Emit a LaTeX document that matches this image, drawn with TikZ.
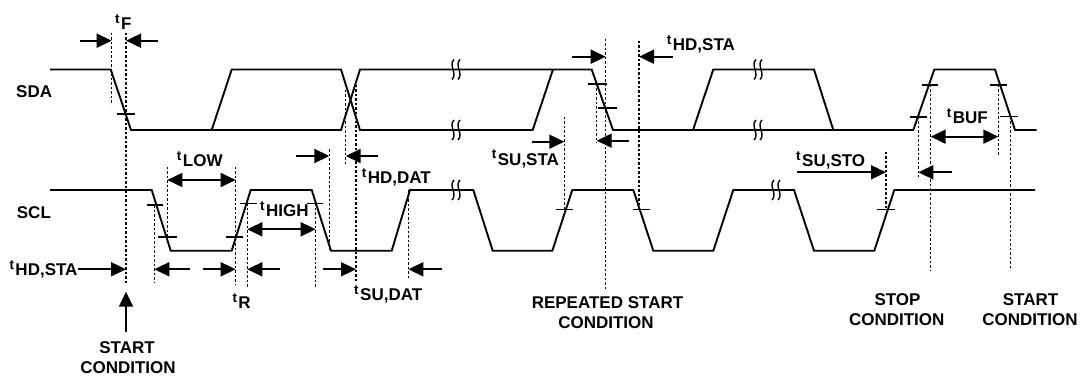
\documentclass[tikz,border=0pt]{standalone}
\usepackage{fontspec}
\setmainfont{Liberation Sans}
\usetikzlibrary{arrows.meta}
\newcommand\tlbl[1]{\raisebox{6pt}{\fontsize{13.5}{13.5}\selectfont t}\kern1.5pt #1}
\tikzset{
  sig/.style={line width=1.9pt, line join=miter},
  guide/.style={line width=1.4pt, dash pattern=on 2.5pt off 2pt},
  tickmark/.style={line width=1.6pt},
  arr/.style={line width=1.8pt, -{Triangle[length=15pt,width=14pt]}},
  darr/.style={line width=1.8pt, {Triangle[length=15pt,width=14pt]}-{Triangle[length=15pt,width=14pt]}},
  lbl/.style={inner sep=0pt, anchor=base west, font=\fontsize{17}{17}\selectfont\bfseries},
  cond/.style={inner sep=0pt, anchor=base, font=\fontsize{17}{17}\selectfont\bfseries},
  brk/.pic={
    \draw[line width=1.4pt] (-2,-10) .. controls (-8,-4) and (2,4) .. (-4,10);
    \draw[line width=1.4pt] (4,-10) .. controls (-2,-4) and (8,4) .. (2,10);
  }
}
\begin{document}
\begin{tikzpicture}[x=1pt,y=-1pt]
\useasboundingbox[fill=white] (0,0) rectangle (1082,377);

% ---------- SDA ----------
\draw[sig] (50,69.5) -- (110.7,69.5) -- (131,130) -- (341,130) -- (360,69.5) -- (591.7,69.5) -- (613,130) -- (913.3,130) -- (934.3,69.5) -- (995,69.5) -- (1015,130) -- (1036.7,130);
\draw[sig] (211.7,130) -- (231.7,69.5) -- (341,69.5) -- (360,130) -- (532.7,130) -- (553,69.5);
\draw[sig] (693,130) -- (713.3,69.5) -- (814,69.5) -- (833.3,130);
\pic at (456,69.5) {brk};
\pic at (456,130) {brk};
\pic at (758,69.5) {brk};
\pic at (758,130) {brk};

% ---------- SCL ----------
\draw[sig] (50,190) -- (151.7,190) -- (170.7,250.7) -- (231.7,250.7) -- (250.7,190) -- (311.7,190) -- (331,250.7) -- (391.7,250.7) -- (410,190) -- (473.3,190) -- (492.7,250.7) -- (552.3,250.7) -- (572.3,190) -- (633.3,190) -- (653.3,250.7) -- (713.3,250.7) -- (733.3,190) -- (794,190) -- (814,250.7) -- (874.3,250.7) -- (894.3,190) -- (1035,190);
\pic at (456,190) {brk};
\pic at (776,190) {brk};

% ---------- tick marks ----------
\draw[tickmark] (117,114) -- (135,114);
\draw[tickmark] (588,84.3) -- (606.7,84.3);
\draw[tickmark] (598,108.3) -- (616.7,108.3);
\draw[tickmark] (910,117.3) -- (926.7,117.3);
\draw[tickmark] (921.7,85) -- (938.3,85);
\draw[tickmark] (990,85) -- (1007,85);
\draw[tickmark] (1000,116.7) -- (1018,116.7);
\draw[tickmark] (146.7,205) -- (163.3,205);
\draw[tickmark] (158,236.7) -- (176.7,236.7);
\draw[tickmark] (226,236.7) -- (243,236.7);
\draw[tickmark] (240,203.3) -- (256.7,203.3);
\draw[tickmark] (306.7,203.3) -- (323.3,203.3);
\draw[tickmark] (556,209.3) -- (573.3,209.3);
\draw[tickmark] (632.7,209.3) -- (650,209.3);
\draw[tickmark] (877.3,209.3) -- (895,209.3);

% ---------- dashed guides ----------
\draw[guide] (111.7,33) -- (111.7,105);
\draw[guide] (126,33) -- (126,283);
\draw[guide] (154.3,205) -- (154.3,283);
\draw[guide] (167.3,166.7) -- (167.3,238);
\draw[guide] (235.7,166.7) -- (235.7,285);
\draw[guide] (247.3,203) -- (247.3,286.7);
\draw[guide] (315.7,203) -- (315.7,286.7);
\draw[guide] (329.3,149.3) -- (329.3,250);
\draw[guide] (345.7,90) -- (345.7,165);
\draw[guide] (356,85) -- (356,283);
\draw[guide] (408.3,190) -- (408.3,280);
\draw[guide] (564.3,116.7) -- (564.3,209);
\draw[guide] (596.7,84) -- (596.7,143);
\draw[guide] (605.7,39) -- (605.7,290);
\draw[guide] (639,40.7) -- (639,209);
\draw[guide] (886,151.7) -- (886,209);
\draw[guide] (918.3,117) -- (918.3,177);
\draw[guide] (930.7,85) -- (930.7,270);
\draw[guide] (998.3,85) -- (998.3,156.7);
\draw[guide] (1010.7,117) -- (1010.7,270);

% ---------- labels ----------
\node[lbl] (sda) at (16,97.3) {SDA};
\node[lbl] (scl) at (16.7,218.3) {SCL};
\node[lbl] (tf) at (115,29.3) {\tlbl{F}};
\node[lbl] (tlow) at (176.7,166.7) {\tlbl{LOW}};
\node[lbl] (thigh) at (260,216.7) {\tlbl{HIGH}};
\node[lbl] (tr) at (232.3,308.3) {\tlbl{R}};
\node[lbl] (thdsta1) at (9.3,275) {\tlbl{HD,STA}};
\node[lbl] (thddat) at (361.7,183.3) {\tlbl{HD,DAT}};
\node[lbl] (tsudat) at (354,300) {\tlbl{SU,DAT}};
\node[lbl] (tsusta) at (491.7,165) {\tlbl{SU,STA}};
\node[lbl] (thdsta2) at (666.7,50.7) {\tlbl{HD,STA}};
\node[lbl] (tsusto) at (796,166.7) {\tlbl{SU,STO}};
\node[lbl] (tbuf) at (946.7,123.3) {\tlbl{BUF}};

\node[cond] (st1a) at (127,353) {START};
\node[cond] (st1b) at (128,373) {CONDITION};
\node[cond] (rsa) at (607.5,308.3) {REPEATED START};
\node[cond] (rsb) at (606,328.3) {CONDITION};
\node[cond] (spa) at (897.5,305) {STOP};
\node[cond] (spb) at (896.7,325) {CONDITION};
\node[cond] (st2a) at (1030.5,305) {START};
\node[cond] (st2b) at (1030,325) {CONDITION};

% ---------- arrows ----------
\coordinate (hdrow) at (0,269.3);
\draw[arr] (80,40.7) -- (111.7,40.7);
\draw[arr] (158,40.7) -- (126,40.7);
\draw[darr] (167.3,180) -- (235.7,180);
\draw[darr] (247.3,229.3) -- (315.7,229.3);
\draw[arr] (190,269.3) -- (154.3,269.3);
\draw[arr] (203.3,269.3) -- (235.7,269.3);
\draw[arr] (280,269.3) -- (247.3,269.3);
\draw[arr] (323,269.3) -- (356,269.3);
\draw[arr] (441.7,269.3) -- (408.3,269.3);
\draw[arr] (thdsta1.east |- hdrow) -- (126,269.3);
\draw[arr] (126,331.7) -- (126,291.7);
\draw[arr] (295.7,156) -- (329.3,156);
\draw[arr] (378.3,156) -- (345.7,156);
\draw[arr] (532,141.7) -- (564.3,141.7);
\draw[arr] (629,140.7) -- (596.7,140.7);
\draw[arr] (572,56.7) -- (605.7,56.7);
\draw[arr] (673,56.7) -- (639,56.7);
\draw[darr] (930.7,136.7) -- (998.3,136.7);
\draw[arr] (797,172.3) -- (886,172.3);
\draw[arr] (951.7,172.3) -- (918.3,172.3);
\end{tikzpicture}
\end{document}
